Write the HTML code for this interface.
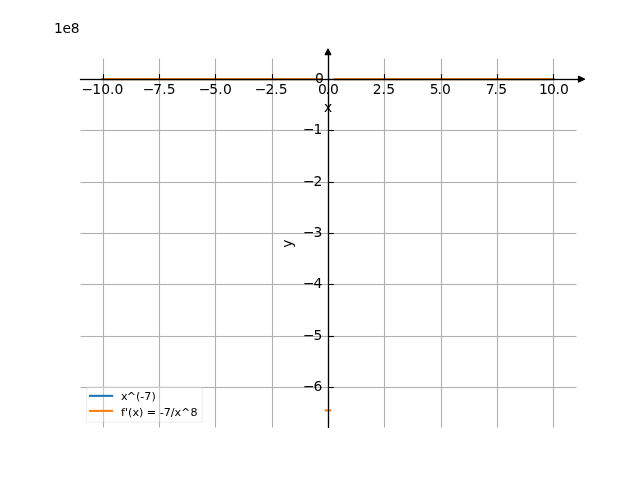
<!DOCTYPE html>
<html><head><meta charset="utf-8"><title>plot</title><style>html,body{margin:0;padding:0;background:#fff;width:640px;height:480px;overflow:hidden}</style></head><body>
<svg width="640" height="480" viewBox="0 0 640 480" style="display:block;position:absolute;left:0;top:0" font-family="'DejaVu Sans', 'Liberation Sans', sans-serif">
<rect width="640" height="480" fill="#fff"/>
<g stroke="#b0b0b0" stroke-width="1.11" fill="none">
<line x1="103.5" y1="58.4" x2="103.5" y2="427.5"/>
<line x1="159.5" y1="58.4" x2="159.5" y2="427.5"/>
<line x1="215.5" y1="58.4" x2="215.5" y2="427.5"/>
<line x1="272.5" y1="58.4" x2="272.5" y2="427.5"/>
<line x1="328.5" y1="58.4" x2="328.5" y2="427.5"/>
<line x1="384.5" y1="58.4" x2="384.5" y2="427.5"/>
<line x1="441.5" y1="58.4" x2="441.5" y2="427.5"/>
<line x1="497.5" y1="58.4" x2="497.5" y2="427.5"/>
<line x1="553.5" y1="58.4" x2="553.5" y2="427.5"/>
<rect x="80.6" y="78.945" width="495.9" height="1.11" fill="#b0b0b0" stroke="none"/>
<rect x="80.6" y="129.945" width="495.9" height="1.11" fill="#b0b0b0" stroke="none"/>
<rect x="80.6" y="181.945" width="495.9" height="1.11" fill="#b0b0b0" stroke="none"/>
<rect x="80.6" y="232.945" width="495.9" height="1.11" fill="#b0b0b0" stroke="none"/>
<rect x="80.6" y="283.945" width="495.9" height="1.11" fill="#b0b0b0" stroke="none"/>
<rect x="80.6" y="335.945" width="495.9" height="1.11" fill="#b0b0b0" stroke="none"/>
<rect x="80.6" y="386.945" width="495.9" height="1.11" fill="#b0b0b0" stroke="none"/>
</g>
<rect x="101.51" y="78.136" width="220.70" height="2.083" fill="#1f77b4" stroke="none"/>
<rect x="333.79" y="78.136" width="220.70" height="2.083" fill="#1f77b4" stroke="none"/>
<rect x="101.51" y="78.136" width="220.70" height="2.083" fill="#ff7f0e" stroke="none"/>
<rect x="333.79" y="78.136" width="220.70" height="2.083" fill="#ff7f0e" stroke="none"/>
<rect x="324.68" y="409.358" width="6.63" height="2.083" fill="#ff7f0e" stroke="none"/>
<g stroke="#000" stroke-width="1.3" fill="none">
<rect x="79.90" y="78.850" width="501.10" height="1.300" fill="#000" stroke="none"/>
<line x1="328.5" y1="52" x2="328.5" y2="428.0"/>
</g>
<g stroke="#000" stroke-width="1.11" fill="none">
<line x1="103.5" y1="79.5" x2="103.5" y2="74.10"/>
<line x1="159.5" y1="79.5" x2="159.5" y2="74.10"/>
<line x1="215.5" y1="79.5" x2="215.5" y2="74.10"/>
<line x1="272.5" y1="79.5" x2="272.5" y2="74.10"/>
<line x1="328.5" y1="79.5" x2="328.5" y2="74.10"/>
<line x1="384.5" y1="79.5" x2="384.5" y2="74.10"/>
<line x1="441.5" y1="79.5" x2="441.5" y2="74.10"/>
<line x1="497.5" y1="79.5" x2="497.5" y2="74.10"/>
<line x1="553.5" y1="79.5" x2="553.5" y2="74.10"/>
<rect x="328.50" y="78.945" width="5.40" height="1.110" fill="#000" stroke="none"/>
<rect x="328.50" y="129.945" width="5.40" height="1.110" fill="#000" stroke="none"/>
<rect x="328.50" y="181.945" width="5.40" height="1.110" fill="#000" stroke="none"/>
<rect x="328.50" y="232.945" width="5.40" height="1.110" fill="#000" stroke="none"/>
<rect x="328.50" y="283.945" width="5.40" height="1.110" fill="#000" stroke="none"/>
<rect x="328.50" y="335.945" width="5.40" height="1.110" fill="#000" stroke="none"/>
<rect x="328.50" y="386.945" width="5.40" height="1.110" fill="#000" stroke="none"/>
</g>
<path d="M584.45 79.18L578.55 76.38V81.98Z" fill="#000" stroke="#000" stroke-width="1.39" stroke-linejoin="round"/>
<path d="M328 49.2L325.3 54.65H330.7Z" fill="#000" stroke="#000" stroke-width="1.39" stroke-linejoin="round"/>
<g font-size="13.889" fill="#000">
<text x="81.53 92.37 101.33 110.11 114.58" y="94">−10.0</text>
<text x="142.63 153.26 162.26 166.83" y="94">−7.5</text>
<text x="198.63 209.33 218.26 222.98" y="94">−5.0</text>
<text x="254.63 265.38 274.26 278.83" y="94">−2.5</text>
<text x="317.88 325.51 330.08" y="94">0.0</text>
<text x="372.73 381.51 386.18" y="94">2.5</text>
<text x="429.83 437.51 441.98" y="94">5.0</text>
<text x="485.76 493.51 498.18" y="94">7.5</text>
<text x="538.97 547.08 555.41 559.93" y="94">10.0</text>
<text x="315.08" y="83">0</text>
<text x="302.98 313.4" y="134">−1</text>
<text x="302.98 313.4" y="186">−2</text>
<text x="302.98 313.4" y="237">−3</text>
<text x="302.98 313.4" y="288">−4</text>
<text x="302.98 313.4" y="340">−5</text>
<text x="302.98 313.4" y="391">−6</text>
<text x="328" y="112" text-anchor="middle">x</text>
<text transform="translate(291.5 243.7) rotate(-90)" text-anchor="middle">y</text>
<text x="54.0 62.39 70.83" y="33">1e8</text>
</g>
<rect x="86.6" y="387.0" width="115.8" height="35.1" rx="2.2" ry="2.2" fill="#fff" fill-opacity="0.3" stroke="#ccc" stroke-opacity="0.3" stroke-width="1.39"/>
<rect x="88.95" y="394.809" width="24.25" height="2.083" fill="#1f77b4" stroke="none"/>
<rect x="88.95" y="409.858" width="24.25" height="2.083" fill="#ff7f0e" stroke="none"/>
<g font-size="11.111" fill="#000">
<text x="121.1" y="399.8" dx="0 -1">x^(-7)</text>
<text x="121.1" y="415.85">f'(x) = -7/x^8</text>
</g>
</svg>
</body></html>
